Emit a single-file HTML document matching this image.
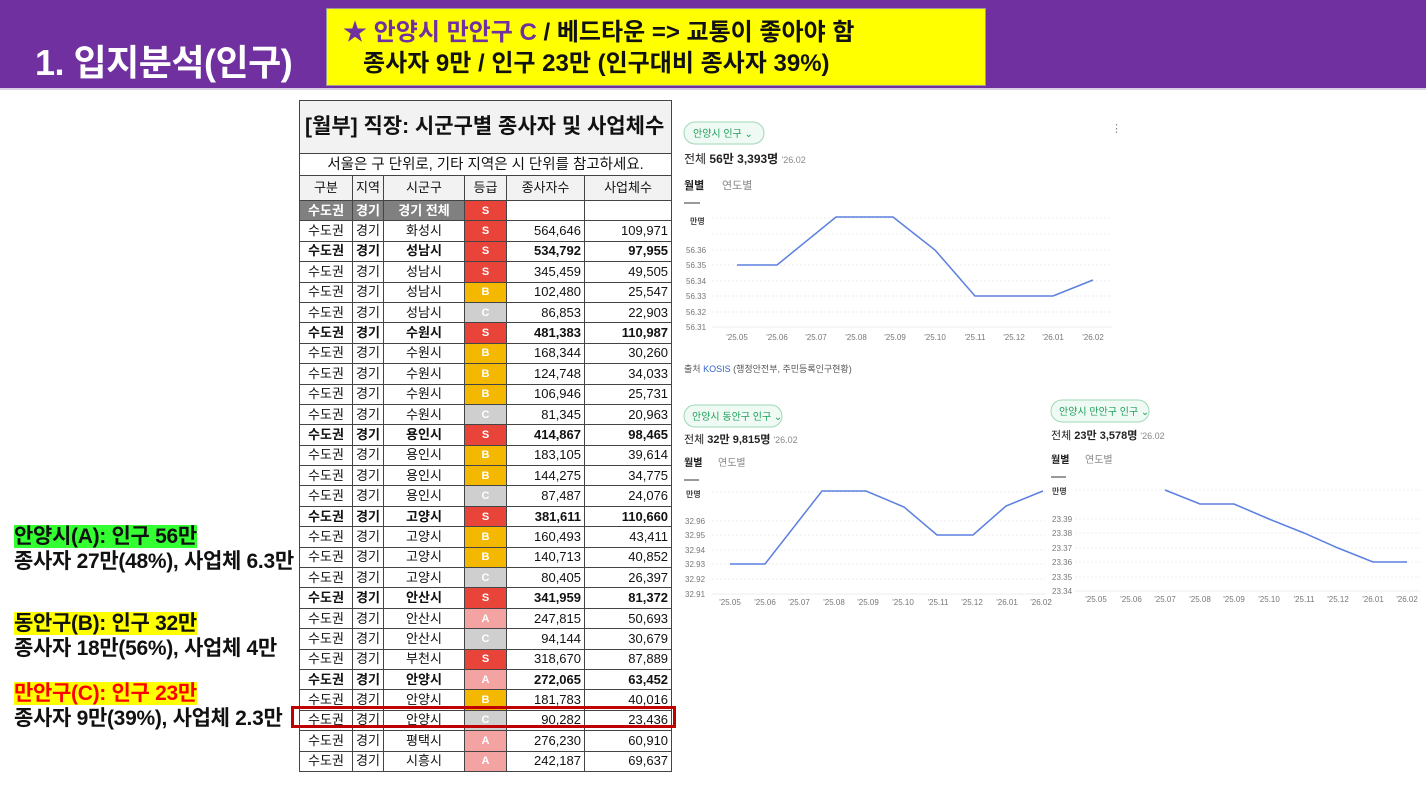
<!DOCTYPE html>
<html><head><meta charset="utf-8"><style>
*{margin:0;padding:0;box-sizing:border-box}
body{width:1426px;height:802px;position:relative;background:#fff;font-family:"Liberation Sans","Noto Sans CJK KR",sans-serif;overflow:hidden}
.a{position:absolute;white-space:nowrap}
#band{left:0;top:0;width:1426px;height:90px;background:#7030a0;border-bottom:2px solid #d9d0e6}
#ttl{left:35px;top:42px;font-size:36px;line-height:42px;font-weight:bold;color:#fff;letter-spacing:-0.5px}
#yb{left:326px;top:8px;width:660px;height:78px;background:#ffff00;border:1px solid #999;font-size:24px;font-weight:bold;line-height:31px;padding:8px 0 0 16px;color:#111}
table{position:absolute;left:299px;top:100px;width:372px;border-collapse:collapse;font-size:13px;color:#111;table-layout:fixed}
td{border:1px solid #444;height:20.4px;padding:0 3px;text-align:center;line-height:18px;overflow:hidden}
td.n{text-align:right}
.S{background:#e8443a;color:#fff;font-weight:bold;font-size:11px}
.B{background:#f5b800;color:#fff;font-weight:bold;font-size:11px}
.C{background:#cfcfcf;color:#fff;font-weight:bold;font-size:11px}
.A{background:#f4a3a3;color:#fff;font-weight:bold;font-size:11px}
tr.b td{font-weight:bold}
.lt{font-size:21px;font-weight:bold;color:#111;line-height:25px;letter-spacing:-0.3px}
</style></head><body>
<div class="a" id="band"></div>
<div class="a" id="ttl">1. 입지분석(인구)</div>
<div class="a" id="yb"><span style="color:#7030a0">★ 안양시 만안구 C</span> / 베드타운 =&gt; 교통이 좋아야 함<br>&nbsp;&nbsp;&nbsp;종사자 9만 / 인구 23만 (인구대비 종사자 39%)</div>

<table>
<colgroup><col style="width:53px"><col style="width:31px"><col style="width:81px"><col style="width:42px"><col style="width:78px"><col style="width:87px"></colgroup>
<tr><td colspan="6" style="height:53px;background:#f2f2f2;font-size:21px;font-weight:bold;text-align:left;padding-left:5px">[월부] 직장: 시군구별 종사자 및 사업체수</td></tr>
<tr><td colspan="6" style="height:22px;font-size:14.5px">서울은 구 단위로, 기타 지역은 시 단위를 참고하세요.</td></tr>
<tr style="background:#f2f2f2"><td style="height:25px">구분</td><td>지역</td><td>시군구</td><td>등급</td><td>종사자수</td><td>사업체수</td></tr>
<tr style="background:#808080;color:#fff;font-weight:bold"><td>수도권</td><td>경기</td><td>경기 전체</td><td class="S">S</td><td style="background:#fff"></td><td style="background:#fff"></td></tr>
<tr><td>수도권</td><td>경기</td><td>화성시</td><td class="S">S</td><td class="n">564,646</td><td class="n">109,971</td></tr>
<tr class="b"><td>수도권</td><td>경기</td><td>성남시</td><td class="S">S</td><td class="n">534,792</td><td class="n">97,955</td></tr>
<tr><td>수도권</td><td>경기</td><td>성남시</td><td class="S">S</td><td class="n">345,459</td><td class="n">49,505</td></tr>
<tr><td>수도권</td><td>경기</td><td>성남시</td><td class="B">B</td><td class="n">102,480</td><td class="n">25,547</td></tr>
<tr><td>수도권</td><td>경기</td><td>성남시</td><td class="C">C</td><td class="n">86,853</td><td class="n">22,903</td></tr>
<tr class="b"><td>수도권</td><td>경기</td><td>수원시</td><td class="S">S</td><td class="n">481,383</td><td class="n">110,987</td></tr>
<tr><td>수도권</td><td>경기</td><td>수원시</td><td class="B">B</td><td class="n">168,344</td><td class="n">30,260</td></tr>
<tr><td>수도권</td><td>경기</td><td>수원시</td><td class="B">B</td><td class="n">124,748</td><td class="n">34,033</td></tr>
<tr><td>수도권</td><td>경기</td><td>수원시</td><td class="B">B</td><td class="n">106,946</td><td class="n">25,731</td></tr>
<tr><td>수도권</td><td>경기</td><td>수원시</td><td class="C">C</td><td class="n">81,345</td><td class="n">20,963</td></tr>
<tr class="b"><td>수도권</td><td>경기</td><td>용인시</td><td class="S">S</td><td class="n">414,867</td><td class="n">98,465</td></tr>
<tr><td>수도권</td><td>경기</td><td>용인시</td><td class="B">B</td><td class="n">183,105</td><td class="n">39,614</td></tr>
<tr><td>수도권</td><td>경기</td><td>용인시</td><td class="B">B</td><td class="n">144,275</td><td class="n">34,775</td></tr>
<tr><td>수도권</td><td>경기</td><td>용인시</td><td class="C">C</td><td class="n">87,487</td><td class="n">24,076</td></tr>
<tr class="b"><td>수도권</td><td>경기</td><td>고양시</td><td class="S">S</td><td class="n">381,611</td><td class="n">110,660</td></tr>
<tr><td>수도권</td><td>경기</td><td>고양시</td><td class="B">B</td><td class="n">160,493</td><td class="n">43,411</td></tr>
<tr><td>수도권</td><td>경기</td><td>고양시</td><td class="B">B</td><td class="n">140,713</td><td class="n">40,852</td></tr>
<tr><td>수도권</td><td>경기</td><td>고양시</td><td class="C">C</td><td class="n">80,405</td><td class="n">26,397</td></tr>
<tr class="b"><td>수도권</td><td>경기</td><td>안산시</td><td class="S">S</td><td class="n">341,959</td><td class="n">81,372</td></tr>
<tr><td>수도권</td><td>경기</td><td>안산시</td><td class="A">A</td><td class="n">247,815</td><td class="n">50,693</td></tr>
<tr><td>수도권</td><td>경기</td><td>안산시</td><td class="C">C</td><td class="n">94,144</td><td class="n">30,679</td></tr>
<tr><td>수도권</td><td>경기</td><td>부천시</td><td class="S">S</td><td class="n">318,670</td><td class="n">87,889</td></tr>
<tr class="b"><td>수도권</td><td>경기</td><td>안양시</td><td class="A">A</td><td class="n">272,065</td><td class="n">63,452</td></tr>
<tr><td>수도권</td><td>경기</td><td>안양시</td><td class="B">B</td><td class="n">181,783</td><td class="n">40,016</td></tr>
<tr><td>수도권</td><td>경기</td><td>안양시</td><td class="C">C</td><td class="n">90,282</td><td class="n">23,436</td></tr>
<tr><td>수도권</td><td>경기</td><td>평택시</td><td class="A">A</td><td class="n">276,230</td><td class="n">60,910</td></tr>
<tr><td>수도권</td><td>경기</td><td>시흥시</td><td class="A">A</td><td class="n">242,187</td><td class="n">69,637</td></tr>
</table>
<div class="a" style="left:291px;top:706px;width:385px;height:22px;border:3px solid #c00000"></div>

<div class="a lt" style="left:14px;top:524px"><span style="background:#33ff33">안양시(A): 인구 56만</span><br>종사자 27만(48%), 사업체 6.3만</div>
<div class="a lt" style="left:14px;top:611px"><span style="background:#ffff00">동안구(B): 인구 32만</span><br>종사자 18만(56%), 사업체 4만</div>
<div class="a lt" style="left:14px;top:681px"><span style="background:#ffff00;color:#ff0000">만안구(C): 인구 23만</span><br>종사자 9만(39%), 사업체 2.3만</div>

<svg class="a" style="left:0;top:0" width="1426" height="802" font-family="Liberation Sans, Noto Sans CJK KR, sans-serif">
<g font-size="10" fill="#1ea05a">
<rect x="684" y="122" width="80" height="22" rx="11" fill="#f0faf4" stroke="#9fd8b6"/><text x="693" y="137">안양시 인구 ⌄</text>
<rect x="684" y="405" width="98" height="22" rx="11" fill="#f0faf4" stroke="#9fd8b6"/><text x="692" y="420">안양시 동안구 인구 ⌄</text>
<rect x="1051" y="400" width="98" height="22" rx="11" fill="#f0faf4" stroke="#9fd8b6"/><text x="1059" y="415">안양시 만안구 인구 ⌄</text>
</g>
<g fill="#222">
<text x="684" y="163" font-size="12">전체 <tspan font-weight="bold">56만 3,393명</tspan> <tspan font-size="9" fill="#888">'26.02</tspan></text>
<text x="684" y="443" font-size="11">전체 <tspan font-weight="bold">32만 9,815명</tspan> <tspan font-size="9" fill="#888">'26.02</tspan></text>
<text x="1051" y="439" font-size="11">전체 <tspan font-weight="bold">23만 3,578명</tspan> <tspan font-size="9" fill="#888">'26.02</tspan></text>
<text x="684" y="189" font-size="11" font-weight="bold">월별</text><text x="722" y="189" font-size="11" fill="#888">연도별</text>
<text x="684" y="466" font-size="10" font-weight="bold">월별</text><text x="718" y="466" font-size="10" fill="#888">연도별</text>
<text x="1051" y="463" font-size="10" font-weight="bold">월별</text><text x="1085" y="463" font-size="10" fill="#888">연도별</text>
<text x="1111" y="132" font-size="11" fill="#888">⋮</text>
<text x="684" y="372" font-size="9" fill="#555">출처 <tspan fill="#3366cc">KOSIS</tspan> (행정안전부, 주민등록인구현황)</text>
</g>
<g stroke="#ddd"><line x1="684" y1="203" x2="700" y2="203" stroke="#999" stroke-width="2"/><line x1="684" y1="480" x2="699" y2="480" stroke="#999" stroke-width="2"/><line x1="1051" y1="477" x2="1066" y2="477" stroke="#999" stroke-width="2"/></g>
<g stroke="#eee" stroke-dasharray="2,2">
<line x1="712" y1="218" x2="1112" y2="218"/><line x1="712" y1="234" x2="1112" y2="234"/><line x1="712" y1="250" x2="1112" y2="250"/><line x1="712" y1="265" x2="1112" y2="265"/><line x1="712" y1="281" x2="1112" y2="281"/><line x1="712" y1="296" x2="1112" y2="296"/><line x1="712" y1="312" x2="1112" y2="312"/><line x1="712" y1="327" x2="1112" y2="327" stroke-dasharray="0"/>
<line x1="712" y1="492" x2="1045" y2="492"/><line x1="712" y1="521" x2="1045" y2="521"/><line x1="712" y1="535" x2="1045" y2="535"/><line x1="712" y1="550" x2="1045" y2="550"/><line x1="712" y1="564" x2="1045" y2="564"/><line x1="712" y1="579" x2="1045" y2="579"/><line x1="712" y1="594" x2="1045" y2="594" stroke-dasharray="0"/>
<line x1="1075" y1="490" x2="1420" y2="490"/><line x1="1075" y1="519" x2="1420" y2="519"/><line x1="1075" y1="533" x2="1420" y2="533"/><line x1="1075" y1="548" x2="1420" y2="548"/><line x1="1075" y1="562" x2="1420" y2="562"/><line x1="1075" y1="577" x2="1420" y2="577"/><line x1="1075" y1="591" x2="1420" y2="591" stroke-dasharray="0"/>
</g>
<g font-size="8" fill="#777">
<text x="690" y="224" font-weight="bold" fill="#444">만명</text>
<text x="686" y="253">56.36</text><text x="686" y="268">56.35</text><text x="686" y="284">56.34</text><text x="686" y="299">56.33</text><text x="686" y="315">56.32</text><text x="686" y="330">56.31</text>
<text x="686" y="497" font-weight="bold" fill="#444">만명</text>
<text x="685" y="524">32.96</text><text x="685" y="538">32.95</text><text x="685" y="553">32.94</text><text x="685" y="567">32.93</text><text x="685" y="582">32.92</text><text x="685" y="597">32.91</text>
<text x="1052" y="494" font-weight="bold" fill="#444">만명</text>
<text x="1052" y="522">23.39</text><text x="1052" y="536">23.38</text><text x="1052" y="551">23.37</text><text x="1052" y="565">23.36</text><text x="1052" y="580">23.35</text><text x="1052" y="594">23.34</text>
</g>
<g font-size="8" fill="#777" text-anchor="middle">
<text x="737" y="340">'25.05</text><text x="777" y="340">'25.06</text><text x="816" y="340">'25.07</text><text x="856" y="340">'25.08</text><text x="895" y="340">'25.09</text><text x="935" y="340">'25.10</text><text x="975" y="340">'25.11</text><text x="1014" y="340">'25.12</text><text x="1053" y="340">'26.01</text><text x="1093" y="340">'26.02</text>
<text x="730" y="605">'25.05</text><text x="765" y="605">'25.06</text><text x="799" y="605">'25.07</text><text x="834" y="605">'25.08</text><text x="868" y="605">'25.09</text><text x="903" y="605">'25.10</text><text x="938" y="605">'25.11</text><text x="972" y="605">'25.12</text><text x="1007" y="605">'26.01</text><text x="1041" y="605">'26.02</text>
<text x="1096" y="602">'25.05</text><text x="1131" y="602">'25.06</text><text x="1165" y="602">'25.07</text><text x="1200" y="602">'25.08</text><text x="1234" y="602">'25.09</text><text x="1269" y="602">'25.10</text><text x="1304" y="602">'25.11</text><text x="1338" y="602">'25.12</text><text x="1373" y="602">'26.01</text><text x="1407" y="602">'26.02</text>
</g>
<g fill="none" stroke="#5b7fe0" stroke-width="1.5">
<polyline points="737,265 777,265 836,217 893,217 935,250 975,296 1053,296 1093,280"/>
<polyline points="730,564 765,564 822,491 866,491 904,507 937,535 973,535 1006,506 1043,491"/>
<polyline points="1165,490 1200,504 1234,504 1269,519 1304,533 1338,548 1373,562 1407,562"/>
</g>
</svg>
</body></html>
